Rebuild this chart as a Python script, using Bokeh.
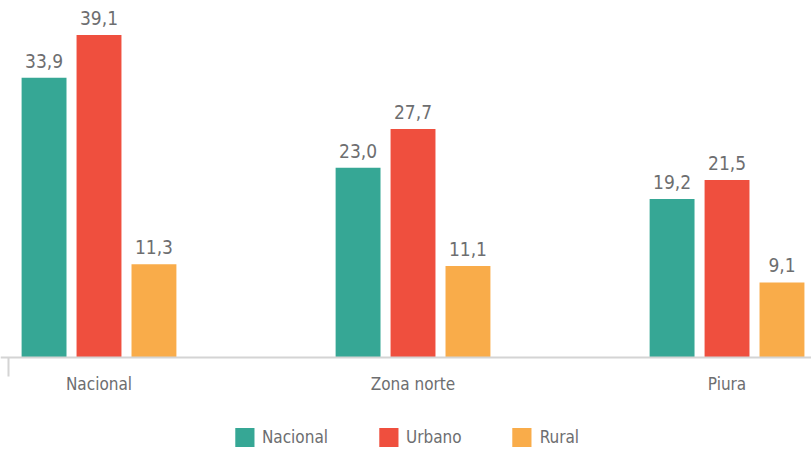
from bokeh.plotting import figure
from bokeh.models import (ColumnDataSource, Range1d, LinearAxis, FixedTicker,
                          Legend, LegendItem)
from bokeh.core.properties import value
from bokeh.embed import file_html
from bokeh.resources import INLINE

# ---- data ----
categories = ["Nacional", "Zona norte", "Piura"]
series_names = ["Nacional", "Urbano", "Rural"]
nacional = [33.9, 23.0, 19.2]
urbano = [39.1, 27.7, 21.5]
rural = [11.3, 11.1, 9.1]

colors = ["#36A795", "#EF4F3E", "#F9AC4A"]
FONT = "DejaVu Sans Condensed"
TXT = "#6d6e70"

W, H = 811, 450
x_start, x_end = -0.3137, 2.269
tick_x = -0.288
y_start, y_end = -11.27, 43.27

p = figure(width=W, height=H, output_backend="svg", toolbar_location=None,
           x_range=Range1d(x_start, x_end), y_range=Range1d(y_start, y_end),
           x_axis_type=None, y_axis_type=None,
           min_border_left=0, min_border_right=0, min_border_top=0, min_border_bottom=0)
p.outline_line_color = None
p.xgrid.grid_line_color = None
p.ygrid.grid_line_color = None
p.background_fill_color = None
p.border_fill_color = None

bar_w = 0.143
offsets = [-0.175, 0.0, 0.175]
series = [nacional, urbano, rural]
items = []
for name, vals, off, col in zip(series_names, series, offsets, colors):
    xs = [i + off for i in range(len(categories))]
    src = ColumnDataSource(dict(x=xs, top=vals,
                                lab=[f"{v:.1f}".replace(".", ",") for v in vals]))
    r = p.vbar(x="x", top="top", bottom=0, width=bar_w, source=src,
               fill_color=col, line_color=None)
    p.text(x="x", y="top", text="lab", source=src, y_offset=-10,
           text_align="center", text_baseline="bottom",
           text_font=value(FONT), text_font_size="19px", text_color=TXT)
    items.append(LegendItem(label=name, renderers=[r]))

# category axis at y = 0
xa = LinearAxis(fixed_location=0,
                ticker=FixedTicker(ticks=list(range(len(categories)))),
                major_label_overrides={i: c for i, c in enumerate(categories)})
xa.axis_line_color = "#d4d4d4"
xa.axis_line_width = 2
xa.major_tick_line_color = None
xa.minor_tick_line_color = None
xa.major_label_standoff = 10
xa.major_label_text_font = FONT
xa.major_label_text_font_size = "17px"
xa.major_label_text_color = TXT
p.add_layout(xa, "below")

# left boundary tick
ta = LinearAxis(fixed_location=0, ticker=FixedTicker(ticks=[tick_x]),
                major_label_overrides={tick_x: ""})
ta.axis_line_color = None
ta.major_tick_line_color = "#d4d4d4"
ta.major_tick_line_width = 2
ta.major_tick_in = 0
ta.major_tick_out = 19
ta.minor_tick_line_color = None
p.add_layout(ta, "below")

legend = Legend(items=items, orientation="horizontal", location="bottom_center",
                glyph_width=24, glyph_height=24, label_standoff=6, spacing=48,
                label_text_font=FONT, label_text_font_size="17px",
                label_text_color=TXT, border_line_color=None,
                background_fill_alpha=0, padding=1, margin=1)
p.add_layout(legend, "center")

open("out.html", "w").write(file_html(p, INLINE))
